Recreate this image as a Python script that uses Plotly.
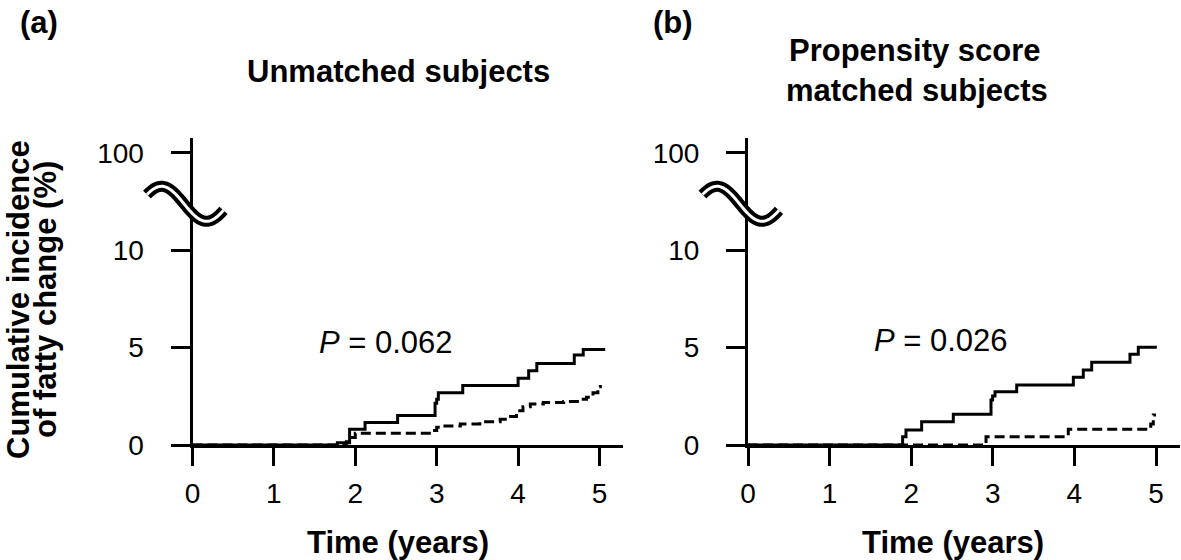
import numpy as np
import plotly.graph_objects as go

W, H = 1181, 560

# ---------------- data ----------------
x_ticks = [0, 1, 2, 3, 4, 5]
y_tickvals = [0, 5, 10, 15]
y_ticktext = ["0", "5", "10", "100"]

# (a) Unmatched subjects
a_solid_t = [0, 1.78, 1.93, 2.12, 2.52, 2.98, 3.00, 3.02, 3.32, 4.00, 4.13, 4.23, 4.69, 4.80, 5.07]
a_solid_v = [0, 0.12, 0.81, 1.15, 1.51, 2.14, 2.35, 2.69, 3.05, 3.43, 3.82, 4.19, 4.62, 4.91, 4.91]
a_dash_t = [0, 1.89, 1.94, 2.00, 2.88, 2.94, 3.00, 3.08, 3.29, 3.53, 3.78, 3.88, 3.98, 4.06,
            4.15, 4.31, 4.56, 4.76, 4.84, 4.92, 4.98, 5.01]
a_dash_v = [0, 0.17, 0.39, 0.60, 0.60, 0.74, 0.91, 0.98, 1.08, 1.20, 1.32, 1.46, 1.76, 1.97,
            2.11, 2.18, 2.24, 2.35, 2.45, 2.69, 2.99, 3.08]

# (b) Propensity score matched subjects
b_solid_t = [0, 1.895, 1.936, 2.128, 2.516, 2.978, 2.998, 3.027, 3.293, 3.987, 4.109, 4.212, 4.681, 4.783, 5.01]
b_solid_v = [0, 0.43, 0.77, 1.20, 1.58, 2.31, 2.52, 2.74, 3.08, 3.48, 3.85, 4.25, 4.66, 5.02, 5.02]
b_dash_t = [0, 2.917, 3.925, 4.935, 4.967, 5.00]
b_dash_v = [0, 0.43, 0.81, 1.08, 1.54, 1.54]

p_text_a = "<i>P</i> = 0.062"
p_text_b = "<i>P</i> = 0.026"

# ---------------- layout geometry (window pixels) ----------------
FONT = "Liberation Sans, Arial, Helvetica, sans-serif"
XR = [0, 5.29]
YR = [0, 15.77]
ax_a_px = (192.5, 192.5 + 5.29 * 81.4)
ax_b_px = (748.0, 748.0 + 5.29 * 81.6)
y_px = (445.0, 138.0)  # bottom, top


def px_x(px):
    return px / W


def px_y(py):
    return (H - py) / H


fig = go.Figure()

solid = dict(color="black", width=3, shape="hv")
dashed = dict(color="black", width=3, shape="hv", dash="10px,5px")

fig.add_trace(go.Scatter(x=a_solid_t, y=a_solid_v, mode="lines", line=solid, xaxis="x", yaxis="y"))
fig.add_trace(go.Scatter(x=a_dash_t, y=a_dash_v, mode="lines", line=dashed, xaxis="x", yaxis="y"))
fig.add_trace(go.Scatter(x=b_solid_t, y=b_solid_v, mode="lines", line=solid, xaxis="x2", yaxis="y2"))
fig.add_trace(go.Scatter(x=b_dash_t, y=b_dash_v, mode="lines", line=dashed, xaxis="x2", yaxis="y2"))

tickfont = dict(family=FONT, size=28, color="black")
common_x = dict(range=XR, tickvals=x_ticks, showline=True, linewidth=3, linecolor="black",
                ticks="outside", ticklen=18, tickwidth=3, tickcolor="black", showgrid=False,
                zeroline=False, tickfont=tickfont, fixedrange=True, ticklabelstandoff=3,
                automargin=False)
common_y = dict(range=YR, tickvals=y_tickvals, ticktext=y_ticktext, showline=True, linewidth=3,
                linecolor="black", ticks="outside", ticklen=19, tickwidth=3, tickcolor="black",
                showgrid=False, zeroline=False, tickfont=tickfont, fixedrange=True,
                domain=[px_y(y_px[0]), px_y(y_px[1])], ticklabelstandoff=21, automargin=False)

fig.update_layout(
    width=W, height=H, margin=dict(l=0, r=0, t=0, b=0, pad=0, autoexpand=False),
    paper_bgcolor="white", plot_bgcolor="white", showlegend=False,
    xaxis=dict(common_x, domain=[px_x(ax_a_px[0]), px_x(ax_a_px[1])], anchor="y"),
    yaxis=dict(common_y, anchor="x"),
    xaxis2=dict(common_x, domain=[px_x(ax_b_px[0]), px_x(ax_b_px[1])], anchor="y2"),
    yaxis2=dict(common_y, anchor="x2"),
)

# ---------------- axis break symbols ----------------
def wave_path(x_axis_px, dy=0.0):
    xs = np.linspace(x_axis_px - 45.5, x_axis_px + 31.0, 60)
    ys = 200.8 + dy + 17.5 * np.sin(np.pi * (xs - (x_axis_px - 8.5)) / 45.0)
    pts = [f"{px_x(a):.5f},{px_y(b):.5f}" for a, b in zip(xs, ys)]
    return "M " + " L ".join(pts)


for axpx in (ax_a_px[0], ax_b_px[0]):
    fig.add_shape(type="path", path=wave_path(axpx, 3.0), xref="paper", yref="paper",
                  line=dict(color="black", width=11), layer="above")
    fig.add_shape(type="path", path=wave_path(axpx, 3.0), xref="paper", yref="paper",
                  line=dict(color="white", width=3), layer="above")

# ---------------- texts ----------------
def ann(text, px, py, size, bold=False, angle=0):
    fig.add_annotation(text=f"<b>{text}</b>" if bold else text, x=px_x(px), y=px_y(py),
                       xref="paper", yref="paper", xanchor="center", yanchor="middle",
                       showarrow=False, textangle=angle, borderpad=0,
                       font=dict(family=FONT, size=size, color="black"))


ann("(a)", 39, 23, 31, bold=True)
ann("(b)", 673, 23, 31, bold=True)
ann("Unmatched subjects", 398, 71, 31, bold=True)
ann("Propensity score", 915, 50, 31, bold=True)
ann("matched subjects", 917, 91, 31, bold=True)
ann("Time (years)", 398, 542, 31, bold=True)
ann("Time (years)", 953, 542, 31, bold=True)
ann("Cumulative incidence", 18, 300, 31, bold=True, angle=-90)
ann("of fatty change (%)", 45, 300, 31, bold=True, angle=-90)
ann(p_text_a, 386, 342, 31)
ann(p_text_b, 941, 340, 31)

# the page's default 8px body margin would shift the 1181x560 figure; remove it
fig.write_html("out.html", config={"displayModeBar": False},
               post_script="document.body.style.margin='0px';")
